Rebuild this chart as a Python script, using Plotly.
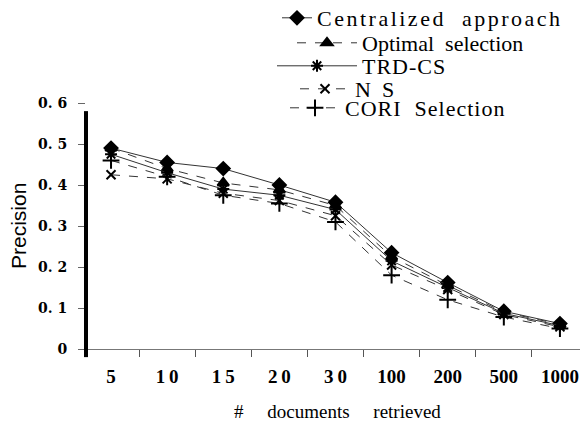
import plotly.graph_objects as go

categories = ["5", "10", "15", "20", "30", "100", "200", "500", "1000"]
x_tick_labels = ["5", "1\u20090", "1\u20095", "2\u20090", "3\u20090", "100", "200", "500", "1000"]

centralized = [0.490, 0.455, 0.440, 0.400, 0.358, 0.235, 0.162, 0.092, 0.062]
optimal = [0.490, 0.440, 0.405, 0.388, 0.350, 0.225, 0.155, 0.090, 0.060]
trd_cs = [0.475, 0.430, 0.390, 0.375, 0.340, 0.215, 0.150, 0.087, 0.057]
ns = [0.425, 0.415, 0.380, 0.362, 0.325, 0.205, 0.145, 0.084, 0.054]
cori = [0.460, 0.420, 0.375, 0.355, 0.310, 0.180, 0.120, 0.078, 0.050]

y_ticks = [0, 0.1, 0.2, 0.3, 0.4, 0.5, 0.6]
y_tick_labels = ["0", "0. 1", "0. 2", "0. 3", "0. 4", "0. 5", "0. 6"]

series_names = ["Centralized\u00a0\u00a0approach", "Optimal\u00a0\u00a0selection", "TRD-CS",
                "N\u00a0\u00a0S", "CORI\u00a0\u00a0Selection"]
letter_spacing = [2.5, 0, 1, 0, 1]

# figure sits inside the page's default 8px body margin
W, H = 580, 413
ML, MT, MB = 78, 95, 72
PW, PH = W - ML, H - MT - MB
serif = "Times New Roman"

def sp(t, ls):
    if ls:
        return f'<span style="letter-spacing:{ls}px">{t}</span>'
    return t

styles = [
    dict(dash="solid", symbol="diamond", size=10),
    dict(dash="dash", symbol="triangle-up", size=10),
    dict(dash="solid", symbol="asterisk-open", size=10),
    dict(dash="dash", symbol="x-thin-open", size=9),
    dict(dash="dash", symbol="cross-thin-open", size=12),
]
data = [centralized, optimal, trd_cs, ns, cori]
legend_ids = ["legend", "legend2", "legend3", "legend4", "legend5"]

fig = go.Figure()
for name, ls, vals, st, lg in zip(series_names, letter_spacing, data, styles, legend_ids):
    fig.add_trace(go.Scatter(
        x=categories, y=vals, mode="lines+markers", name=sp(name, ls),
        line=dict(color="#333333", width=1, dash=st["dash"]),
        marker=dict(symbol=st["symbol"], size=st["size"], color="black",
                    line=dict(color="black", width=2)),
        legend=lg,
    ))

# (left x, centre y, itemwidth) in figure pixels
legend_rows = [(269, 10, 30), (284, 35, 60), (264, 58, 80), (287, 81, 50), (277, 100, 50)]
layout_legends = {}
for lg, (px, py, iw) in zip(legend_ids, legend_rows):
    layout_legends[lg] = dict(
        x=px / W, y=1 - py / H, xref="container", yref="container",
        xanchor="left", yanchor="middle", itemwidth=iw,
        bgcolor="rgba(0,0,0,0)", font=dict(family=serif, size=22, color="black"))

fig.update_layout(
    width=W, height=H,
    margin=dict(l=ML, r=0, t=MT, b=MB, pad=0, autoexpand=False),
    paper_bgcolor="white", plot_bgcolor="white",
    font=dict(family=serif),
    showlegend=True,
    **layout_legends,
)

fig.update_xaxes(
    type="category", categoryorder="array", categoryarray=categories,
    tickvals=categories, ticktext=x_tick_labels,
    range=[-0.446, 8.5],
    tickson="boundaries", ticks="outside", ticklen=7, tickcolor="#555",
    showline=True, linecolor="#777", linewidth=1,
    showgrid=False, zeroline=False,
    tickfont=dict(family=serif, size=19, color="black", weight="bold"),
    ticklabelstandoff=10,
    automargin=False,
)

fig.update_yaxes(
    range=[0, 0.6], tickvals=y_ticks, ticktext=y_tick_labels,
    ticks="outside", ticklen=7, tickcolor="#666",
    showline=False, showgrid=False, zeroline=False,
    tickfont=dict(family="DejaVu Serif", size=14, color="black", weight="bold"),
    ticklabelstandoff=8,
    automargin=False,
)

fig.add_annotation(text="Precision", textangle=-90, showarrow=False,
                   xref="paper", yref="paper", x=(10 - ML) / PW, y=(MT + PH - 218) / PH,
                   xanchor="center", yanchor="middle",
                   font=dict(family="Liberation Sans", size=21, color="black"))
fig.add_annotation(text="#" + "\u00a0" * 5 + "documents" + "\u00a0" * 5 + "retrieved",
                   showarrow=False, xref="paper", yref="paper",
                   x=0.5, y=(MT + PH - 403) / PH, xanchor="center", yanchor="middle",
                   font=dict(family=serif, size=19, color="black"))

fig.add_shape(type="line", xref="paper", yref="paper", x0=0, x1=0, y0=-0.033, y1=0.967,
              line=dict(color="black", width=4))

fig.write_html("out.html")
